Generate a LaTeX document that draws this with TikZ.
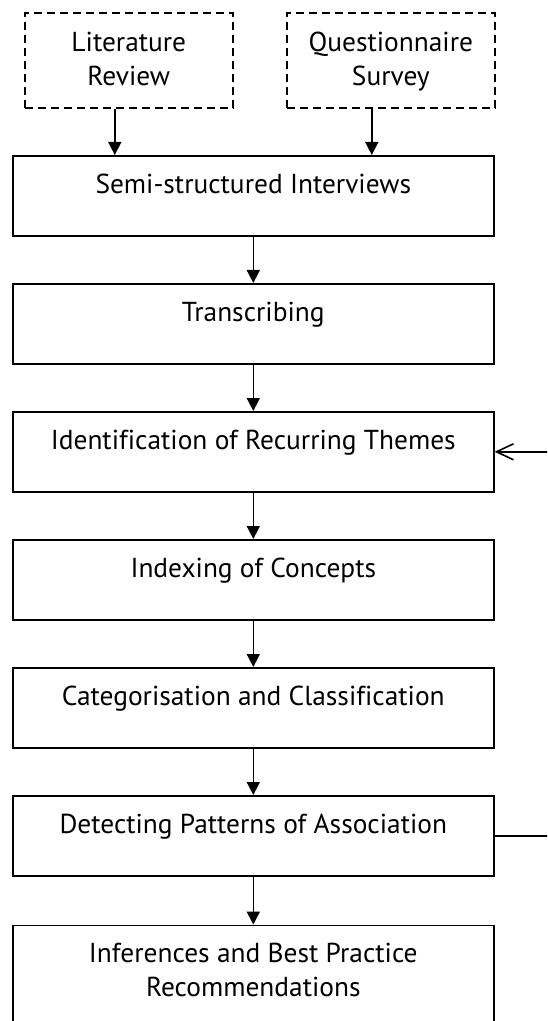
\documentclass[tikz,border=0pt]{standalone}
\usepackage{fontspec}
\setmainfont[Ligatures=NoCommon]{PT Sans}
\usetikzlibrary{arrows.meta, positioning}
\tikzset{
  node distance=64pt,
  every node/.style={font=\fontsize{13.7}{17}\selectfont},
  stage/.style={draw, line width=0.8pt, minimum width=240.5pt, minimum height=40pt,
    inner sep=0pt, text height=19pt, text depth=21pt, align=center},
  source/.style={draw, line width=0.8pt, dash pattern=on 4pt off 2.5pt,
    minimum width=104pt, minimum height=47.5pt, inner sep=0pt, align=center,
    text height=36pt, text depth=11.5pt},
  flow/.style={-{Triangle[length=6.5pt, width=6.5pt]}, line width=0.8pt},
  back/.style={-{Straight Barb[length=8.5pt, width=8pt]}, line width=0.8pt},
}

\begin{document}
\begin{tikzpicture}[x=0.5pt, y=-0.5pt]
  \path[use as bounding box, clip] (0,0) rectangle (547,1021);

  % inputs
  \node[source, anchor=north west] (lit) at (24,12.5) {Literature\\Review};
  \node[source, anchor=north west] (que) at (286,12.5) {Questionnaire\\Survey};

  % analysis stages
  \node[stage, anchor=north west] (semi) at (12,155) {Semi-structured Interviews};
  \node[stage, below of=semi] (trans) {Transcribing};
  \node[stage, below of=trans] (ident) {Identification of Recurring Themes};
  \node[stage, below of=ident] (index) {Indexing of Concepts};
  \node[stage, below of=index] (categ) {Categorisation and Classification};
  \node[stage, below of=categ] (detect) {Detecting Patterns of Association};
  \node[stage, below=24pt of detect, minimum height=60pt, text height=35.5pt, text depth=24.5pt] (infer)
    {Inferences and Best Practice\\Recommendations};

  \draw[flow] ([xshift=-7pt]lit.south) -- ([xshift=-7pt]lit.south |- semi.north);
  \draw[flow] ([xshift=-9.5pt]que.south) -- ([xshift=-9.5pt]que.south |- semi.north);
  \draw[flow] (semi) -- (trans);
  \draw[flow] (trans) -- (ident);
  \draw[flow] (ident) -- (index);
  \draw[flow] (index) -- (categ);
  \draw[flow] (categ) -- (detect);
  \draw[flow] (detect) -- (infer);

  % loop back to the themes
  \draw[back] (detect.east) -- ++(70,0) |- (ident.east);
\end{tikzpicture}
\end{document}
